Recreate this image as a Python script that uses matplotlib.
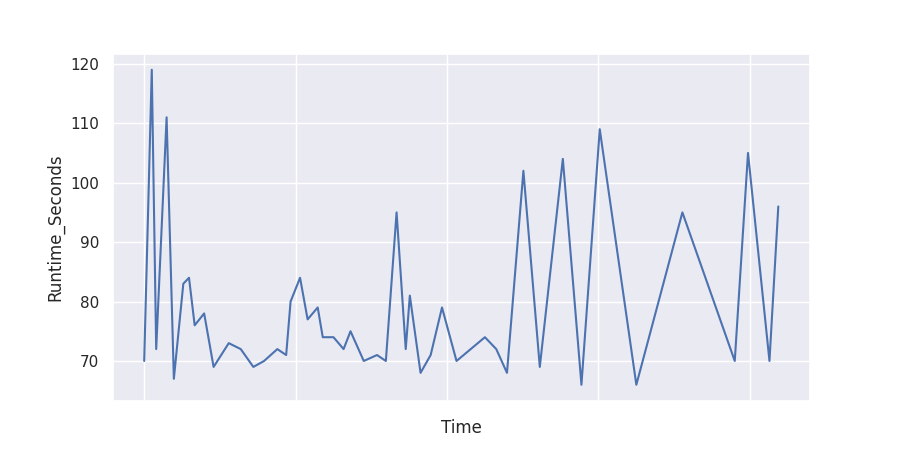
import matplotlib
matplotlib.use("Agg")
import matplotlib.pyplot as plt
from matplotlib.ticker import MultipleLocator, NullFormatter
import seaborn as sns

sns.set_theme(style="darkgrid")

# hours since start
time_hours = [0.0, 1.2, 1.9, 3.55, 4.7, 6.2, 7.1, 8.0, 9.5, 11.0, 13.4, 15.3, 17.3,
              19.0, 21.1, 22.5, 23.2, 24.7, 25.9, 27.5, 28.3, 30.0, 31.6, 32.7,
              34.8, 36.9, 38.3, 40.0, 41.45, 42.1, 43.8, 45.4, 47.2, 49.5, 54.0,
              55.8, 57.5, 60.1, 62.7, 66.35, 69.3, 72.2, 78.0, 85.3, 93.6, 95.7,
              99.1, 100.5]
runtime_seconds = [70, 119, 72, 111, 67, 83, 84, 76, 78, 69, 73, 72, 69,
                   70, 72, 71, 80, 84, 77, 79, 74, 74, 72, 75,
                   70, 71, 70, 95, 72, 81, 68, 71, 79, 70, 74,
                   72, 68, 102, 69, 104, 66, 109, 66, 95, 70, 105,
                   70, 96]

fig, ax = plt.subplots(figsize=(9, 4.5), dpi=100)
ax.plot(time_hours, runtime_seconds, color="#4c72b0", linewidth=1.5)
ax.xaxis.set_major_locator(MultipleLocator(24))
ax.xaxis.set_major_formatter(NullFormatter())
ax.set_xlabel("Time")
ax.set_ylabel("Runtime_Seconds")
fig.savefig("out.png", dpi=100)
